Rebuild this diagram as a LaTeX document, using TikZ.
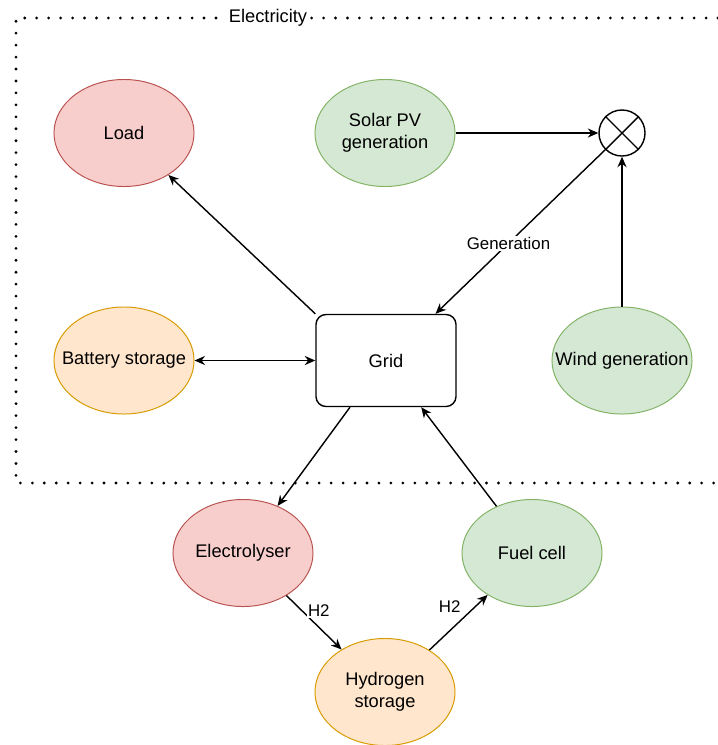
\documentclass[tikz,border=0pt]{standalone}
\usepackage{fontspec}
\setmainfont{Liberation Sans}
\usetikzlibrary{shapes.geometric,arrows.meta}
\definecolor{redfill}{HTML}{F8CECC}
\definecolor{redline}{HTML}{B85450}
\definecolor{greenfill}{HTML}{D5E8D4}
\definecolor{greenline}{HTML}{82B366}
\definecolor{orangefill}{HTML}{FFE6CC}
\definecolor{orangeline}{HTML}{D79B00}

\begin{document}
\begin{tikzpicture}[x=0.025cm,y=-0.025cm,
	>={Stealth[length=7.5pt,width=6.5pt]},
	every node/.style={font=\fontsize{13}{15.5}\selectfont},
	blob/.style={ellipse,draw,line width=0.7pt,minimum width=3.5cm,minimum height=2.675cm,inner ysep=0pt,inner xsep=-0.5cm,align=center},
	redblob/.style={blob,draw=redline,fill=redfill},
	greenblob/.style={blob,draw=greenline,fill=greenfill},
	orangeblob/.style={blob,draw=orangeline,fill=orangefill},
	conn/.style={->,line width=1pt},
	lbl/.style={fill=white,inner sep=1pt,font=\fontsize{12}{14}\selectfont}]
	    \useasboundingbox (0,0) rectangle (718,745);
	    % electricity frame
	    \draw[line width=2.2pt,line cap=round,dash pattern=on 0pt off 8.5pt] (718,18) -- (16,18) -- (16,483) -- (718,483);
	    \node[fill=white,inner sep=2pt] (elabel) at (268,18) {Electricity};
	    \node[redblob] (load) at (124,133) {Load};
	    \node[greenblob] (solar) at (385,133) {Solar PV\\generation};
	    \node[draw,circle,line width=1pt,minimum size=1.15cm,inner sep=0pt] (mix) at (622,133) {};
	    \draw[line width=1pt] (mix.45) -- (mix.225) (mix.135) -- (mix.315);
	    \node[orangeblob] (battery) at (124,360.5) {Battery storage};
	    \node[draw,rounded corners=0.25cm,minimum width=3.5cm,minimum height=2.3cm,line width=1pt] (grid) at (386,360.5) {Grid};
	    \node[greenblob] (wind) at (622,360.5) {Wind generation};
	    \node[redblob] (elec) at (243,553) {Electrolyser};
	    \node[greenblob] (fuel) at (532,553) {Fuel cell};
	    \node[orangeblob] (h2store) at (385,692) {Hydrogen\\storage};
	    % connectors
	    \draw[conn] (grid.north west) -- (load);
	    \draw[conn,<->] (battery) -- (grid);
	    \draw[conn] (solar) -- (mix);
	    \draw[conn] (wind) -- (mix);
	    \draw[conn] (mix.225) -- node[lbl,pos=0.57] (genlbl) {Generation} ([xshift=-0.53cm]grid.north east);
	    \draw[conn] ([xshift=-0.9cm]grid.south) -- (elec);
	    \draw[conn] (fuel) -- ([xshift=0.88cm]grid.south);
	    \draw[conn] (elec) -- node[lbl,xshift=0.12cm,yshift=0.3cm] (hlblA) {H2} (h2store);
	    \draw[conn] (h2store) -- node[lbl,xshift=-0.22cm,yshift=0.4cm] (hlblB) {H2} (fuel);
	\end{tikzpicture}
\end{document}
